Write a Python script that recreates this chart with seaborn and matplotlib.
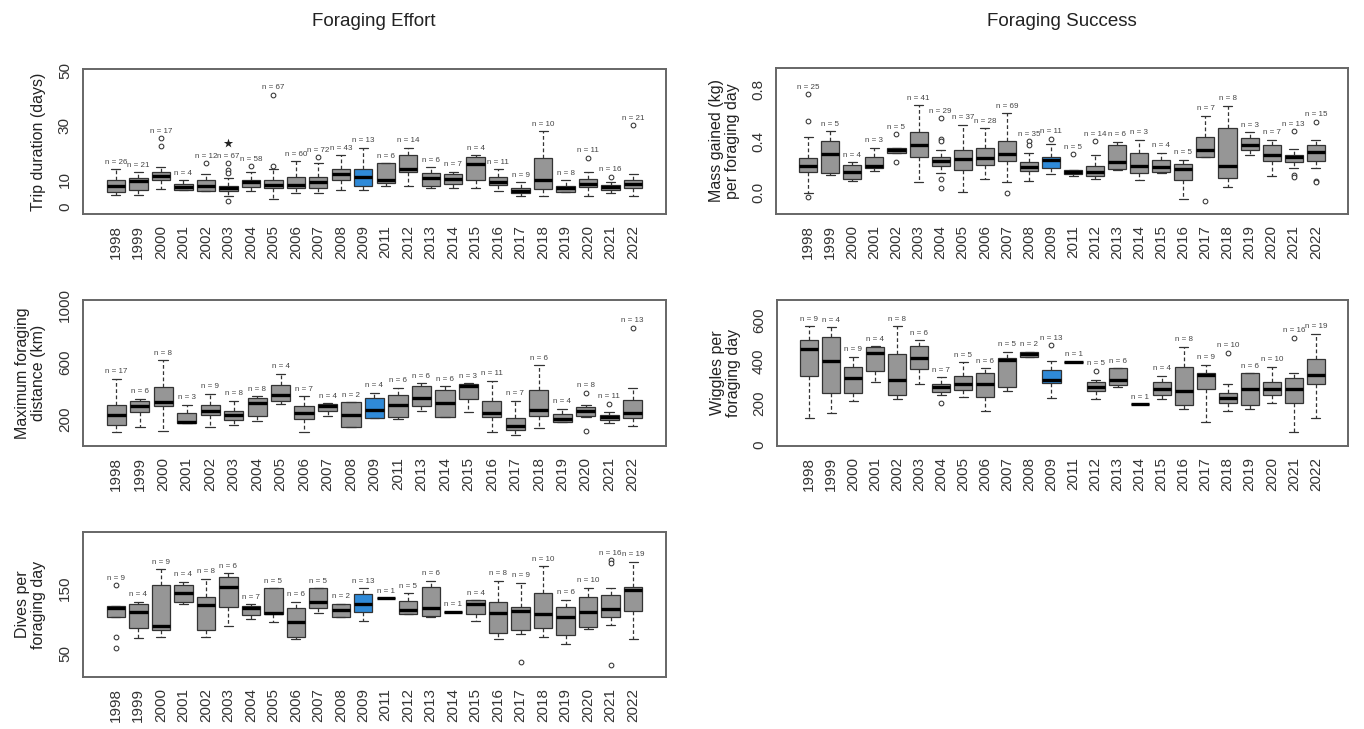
import numpy as np
import pandas as pd
import matplotlib
matplotlib.use("Agg")
import matplotlib.pyplot as plt
import seaborn as sns

# ---------------------------------------------------------------------------
# Data
# ---------------------------------------------------------------------------

years_all = ["1998", "1999", "2000", "2001", "2002", "2003", "2004", "2005",
             "2006", "2007", "2008", "2009", "2011", "2012", "2013", "2014",
             "2015", "2016", "2017", "2018", "2019", "2020", "2021", "2022"]
years_dist = [y for y in years_all if y != "2012"]

# Trip duration (days)
trip_n = [26, 21, 17, 4, 12, 67, 58, 67, 60, 72, 43, 13, 6, 14, 6, 7, 4, 11, 9, 10, 8, 11, 16, 21]
trip_lo = [4.5, 4.5, 6.5, 6.1, 5.8, 4.2, 5.9, 3.0, 5.1, 5.1, 6.1, 6.1, 7.9, 7.9, 6.9, 6.9, 6.9, 5.9, 4.2, 4.2, 5.7, 4.2, 5.1, 4.0]
trip_q1 = [5.7, 6.4, 9.9, 6.3, 5.9, 5.9, 7.5, 6.9, 6.9, 6.9, 9.9, 7.8, 8.7, 12.7, 7.8, 8.4, 9.9, 8.1, 5.0, 6.7, 5.7, 7.2, 6.4, 7.0]
trip_med = [7.9, 9.6, 11.5, 7.3, 7.9, 6.9, 9.3, 8.1, 8.1, 9.1, 12.0, 11.2, 9.9, 13.8, 10.8, 10.2, 15.6, 9.2, 5.9, 9.9, 6.9, 8.4, 7.3, 8.5]
trip_q3 = [9.9, 10.5, 13.0, 8.4, 9.8, 7.9, 9.9, 9.9, 10.9, 10.9, 13.8, 13.8, 16.0, 19.0, 12.6, 12.1, 18.2, 11.2, 6.9, 17.8, 7.9, 10.3, 8.1, 10.0]
trip_hi = [13.8, 12.7, 14.8, 9.9, 12.1, 10.8, 13.0, 13.8, 16.8, 16.0, 19.0, 21.7, 16.0, 21.8, 14.5, 13.0, 19.0, 13.8, 9.1, 27.8, 9.9, 13.0, 9.1, 12.0]
trip_out_year = ["2000", "2000", "2002", "2003", "2003", "2003", "2003", "2004", "2005", "2005",
                 "2007", "2020", "2021", "2022"]
trip_out_val = [22.3, 25.1, 16.0, 16.0, 13.5, 12.5, 2.3, 15.0, 15.0, 41.1, 18.2, 18.1, 11.2, 30.0]
trip_star_year = ["2003"]
trip_star_val = [23.5]

# Mass gained (kg) per foraging day
mass_n = [25, 5, 4, 3, 5, 41, 29, 37, 28, 69, 35, 11, 5, 14, 6, 3, 4, 5, 7, 8, 3, 7, 13, 15]
mass_lo = [0.0, 0.138, 0.09, 0.17, 0.31, 0.086, 0.15, 0.008, 0.106, 0.086, 0.09, 0.143, 0.132, 0.106, 0.177, 0.10, 0.15, -0.05, 0.275, 0.047, 0.29, 0.13, 0.19, 0.19]
mass_q1 = [0.158, 0.156, 0.106, 0.19, 0.31, 0.275, 0.21, 0.174, 0.216, 0.247, 0.17, 0.195, 0.145, 0.132, 0.184, 0.156, 0.164, 0.10, 0.275, 0.117, 0.33, 0.25, 0.236, 0.25]
mass_med = [0.21, 0.30, 0.164, 0.21, 0.33, 0.37, 0.25, 0.26, 0.268, 0.30, 0.20, 0.255, 0.164, 0.158, 0.236, 0.21, 0.20, 0.184, 0.33, 0.21, 0.37, 0.29, 0.28, 0.314]
mass_q3 = [0.27, 0.40, 0.216, 0.278, 0.345, 0.47, 0.28, 0.33, 0.35, 0.40, 0.236, 0.28, 0.177, 0.21, 0.37, 0.31, 0.255, 0.22, 0.43, 0.50, 0.423, 0.37, 0.293, 0.37]
mass_hi = [0.43, 0.48, 0.236, 0.35, 0.345, 0.68, 0.33, 0.527, 0.50, 0.618, 0.31, 0.377, 0.177, 0.293, 0.397, 0.41, 0.31, 0.255, 0.60, 0.675, 0.47, 0.41, 0.338, 0.41]
mass_out_year = ["1998", "1998", "1998", "2002", "2002", "2004", "2004", "2004", "2004", "2004",
                 "2007", "2008", "2008", "2009", "2011", "2012", "2017", "2021", "2021", "2021",
                 "2022", "2022", "2022"]
mass_out_val = [0.56, 0.766, -0.03, 0.455, 0.236, 0.58, 0.42, 0.40, 0.11, 0.04,
                0.0, 0.40, 0.37, 0.418, 0.30, 0.40, -0.065, 0.48, 0.14, 0.12,
                0.553, 0.09, 0.085]

# Maximum foraging distance (km) - no 2012
dist_n = [17, 6, 8, 3, 9, 8, 8, 4, 7, 4, 2, 4, 6, 6, 6, 3, 11, 7, 6, 4, 8, 11, 13]
dist_lo = [111, 144, 118, 169, 146, 158, 188, 306, 111, 224, 141, 207, 200, 259, 212, 252, 106, 87, 134, 181, 216, 172, 150]
dist_q1 = [158, 247, 294, 169, 228, 193, 224, 329, 200, 254, 141, 207, 212, 289, 212, 341, 212, 122, 224, 181, 224, 193, 210]
dist_med = [228, 289, 322, 181, 259, 228, 313, 369, 242, 289, 228, 266, 299, 348, 313, 430, 242, 153, 264, 200, 259, 212, 245]
dist_q3 = [299, 325, 424, 240, 301, 259, 348, 440, 289, 306, 318, 348, 369, 431, 407, 445, 329, 207, 405, 235, 282, 228, 330]
dist_hi = [482, 341, 611, 299, 376, 329, 360, 518, 360, 312, 318, 384, 420, 450, 430, 450, 470, 329, 576, 271, 299, 247, 420]
dist_out_year = ["2020", "2020", "2021", "2022"]
dist_out_val = [384, 113, 306, 840]

# Wiggles per foraging day
wig_n = [9, 4, 9, 4, 8, 6, 7, 5, 6, 5, 2, 13, 1, 5, 6, 1, 4, 8, 9, 10, 6, 10, 16, 19]
wig_lo = [130, 150, 210, 300, 220, 290, 240, 230, 160, 260, 425, 225, 400, 220, 280, 195, 220, 170, 110, 160, 170, 200, 60, 130]
wig_q1 = [330, 250, 250, 357, 240, 365, 255, 265, 230, 280, 425, 295, 400, 260, 285, 195, 240, 190, 270, 200, 190, 240, 200, 290]
wig_med = [463, 405, 322, 440, 310, 417, 280, 290, 290, 410, 437, 310, 400, 280, 310, 195, 270, 260, 337, 225, 270, 270, 270, 337]
wig_q3 = [505, 521, 376, 473, 437, 476, 290, 333, 346, 416, 448, 362, 400, 300, 368, 195, 300, 376, 346, 250, 344, 300, 321, 413]
wig_hi = [571, 568, 425, 476, 571, 503, 325, 397, 368, 448, 448, 405, 400, 310, 368, 195, 333, 473, 386, 290, 344, 376, 346, 535]
wig_out_year = ["2004", "2009", "2012", "2018", "2021"]
wig_out_val = [200, 479, 357, 444, 516]

# Dives per foraging day
dive_n = [9, 4, 9, 4, 8, 6, 7, 5, 6, 5, 2, 13, 1, 5, 6, 1, 4, 8, 9, 10, 6, 10, 16, 19]
dive_lo = [105.8, 72.8, 74.4, 124.6, 75.4, 91.6, 102.3, 98, 71.8, 112, 104.8, 99.7, 133.8, 110, 105.8, 113.5, 99.7, 71.8, 79.4, 74.4, 64.2, 86.5, 94, 71.3]
dive_q1 = [105.8, 88, 85.5, 128.7, 85.5, 121, 108.4, 110, 75.4, 118.5, 104.8, 113.5, 133.8, 110, 106.9, 113.5, 110, 81.5, 85.5, 88, 78, 89.6, 105.8, 115]
dive_med = [118.5, 112.4, 91.6, 141.4, 123.6, 151.5, 118.5, 110.9, 98, 128.7, 116, 126, 133.8, 116, 119.5, 113.5, 126, 110.9, 115, 110, 104.8, 113.5, 117.5, 146.4]
dive_q3 = [121.5, 124.6, 154, 154, 136.3, 165.7, 122, 149, 118.5, 149, 126, 140.4, 133.8, 130, 151.5, 113.5, 131.2, 128.7, 121, 141.4, 121, 136.3, 138.8, 151.5]
dive_hi = [121.5, 128.7, 178, 159, 164, 171.8, 124.6, 149, 128.7, 149, 126, 149, 133.8, 141.4, 160.7, 113.5, 131.2, 160.7, 157.6, 183, 132, 150, 150, 189.6]
dive_out_year = ["1998", "1998", "1998", "2017", "2021", "2021", "2021"]
dive_out_val = [154, 75.4, 57.6, 36.3, 192, 188, 32.2]

BOX_GREY = "#969696"
BOX_BLUE = "#2f8ad8"
LINE = "#333333"

W, H = 1364, 729


def panel_axes(fig, x0, y0, x1, y1):
    """Add axes given pixel box (left, top, right, bottom)."""
    return fig.add_axes([x0 / W, 1 - y1 / H, (x1 - x0) / W, (y1 - y0) / H])


def draw_panel(ax, years, n, lo, q1, med, q3, hi, out_year, out_val,
               ylim, yticks, yticklabels, ylabel,
               star_year=None, star_val=None):
    stats = np.column_stack([lo, q1, med, q3, hi])
    df = pd.DataFrame({"year": np.repeat(years, 5), "value": stats.ravel()})
    pal = {y: (BOX_BLUE if y == "2009" else BOX_GREY) for y in years}

    sns.boxplot(data=df, x="year", y="value", hue="year", palette=pal,
                order=years, hue_order=years, whis=(0, 100), showfliers=False,
                width=0.82, saturation=1, linecolor=LINE, linewidth=0.9,
                legend=False, ax=ax,
                medianprops={"color": "black", "linewidth": 2.4},
                whiskerprops={"linestyle": (0, (3, 2)), "color": LINE})

    outs = pd.DataFrame({"year": out_year, "value": out_val})
    sns.stripplot(data=outs, x="year", y="value", order=years, jitter=False,
                  color="white", edgecolor=LINE, linewidth=0.75, size=3.4,
                  ax=ax, zorder=4)
    if star_year:
        stars = pd.DataFrame({"year": star_year, "value": star_val})
        sns.stripplot(data=stars, x="year", y="value", order=years,
                      jitter=False, color="#222222", marker="*", size=7,
                      ax=ax, zorder=4)

    # sample-size labels above the highest element of each year
    for i, y in enumerate(years):
        top = max([hi[i]] + [v for yy, v in zip(out_year, out_val) if yy == y])
        ax.annotate(f"n = {n[i]}", (i, top), xytext=(0, 2.5),
                    textcoords="offset points", ha="center", va="bottom",
                    fontsize=5.8, color="#444444")

    k = len(years)
    ax.set_xlim(-0.5 - 0.04 * k, k - 0.5 + 0.04 * k)
    ax.set_ylim(*ylim)
    ax.set_yticks(yticks, yticklabels)
    plt.setp(ax.get_yticklabels(), rotation=90, va="center")
    plt.setp(ax.get_xticklabels(), rotation=90)
    ax.set_xlabel("")
    ax.set_ylabel(ylabel, fontsize=11.5, color="#222222", linespacing=1.1)
    ax.yaxis.set_label_coords(-0.063, 0.5)
    ax.tick_params(axis="both", direction="out", length=5, width=1,
                   color="#555555", labelcolor="#333333", labelsize=11, pad=3)
    for sp in ax.spines.values():
        sp.set_visible(True)
        sp.set_color("#666666")
        sp.set_linewidth(1.4)


sns.set_style("white")
plt.rcParams["font.family"] = ["Liberation Sans", "DejaVu Sans"]

fig = plt.figure(figsize=(W / 100, H / 100), dpi=100)

ax1 = panel_axes(fig, 83, 69, 666, 214)
draw_panel(ax1, years_all, trip_n, trip_lo, trip_q1, trip_med, trip_q3, trip_hi,
           trip_out_year, trip_out_val, (-2.5, 50.5),
           [0, 10, 20, 30, 40, 50], ["0", "10", "", "30", "", "50"],
           "Trip duration (days)", trip_star_year, trip_star_val)

ax2 = panel_axes(fig, 776, 68, 1348, 214)
draw_panel(ax2, years_all, mass_n, mass_lo, mass_q1, mass_med, mass_q3, mass_hi,
           mass_out_year, mass_out_val, (-0.166, 0.97),
           [0.0, 0.2, 0.4, 0.6, 0.8], ["0.0", "", "0.4", "", "0.8"],
           "Mass gained (kg)\nper foraging day")

ax3 = panel_axes(fig, 83, 300, 666, 446)
draw_panel(ax3, years_dist, dist_n, dist_lo, dist_q1, dist_med, dist_q3, dist_hi,
           dist_out_year, dist_out_val, (10, 1036),
           [200, 400, 600, 800, 1000], ["200", "", "600", "", "1000"],
           "Maximum foraging\ndistance (km)")

ax4 = panel_axes(fig, 777, 300, 1348, 446)
draw_panel(ax4, years_all, wig_n, wig_lo, wig_q1, wig_med, wig_q3, wig_hi,
           wig_out_year, wig_out_val, (-8, 699),
           [0, 200, 400, 600], ["0", "200", "400", "600"],
           "Wiggles per\nforaging day")

ax5 = panel_axes(fig, 83, 532, 666, 677)
draw_panel(ax5, years_all, dive_n, dive_lo, dive_q1, dive_med, dive_q3, dive_hi,
           dive_out_year, dive_out_val, (14, 235),
           [50, 100, 150, 200], ["50", "", "150", ""],
           "Dives per\nforaging day")

fig.text(374 / W, 1 - 22 / H, "Foraging Effort", ha="center", va="center",
         fontsize=13.5, color="#222222")
fig.text(1062 / W, 1 - 22 / H, "Foraging Success", ha="center", va="center",
         fontsize=13.5, color="#222222")

fig.savefig("out.png", dpi=100, facecolor="white")
